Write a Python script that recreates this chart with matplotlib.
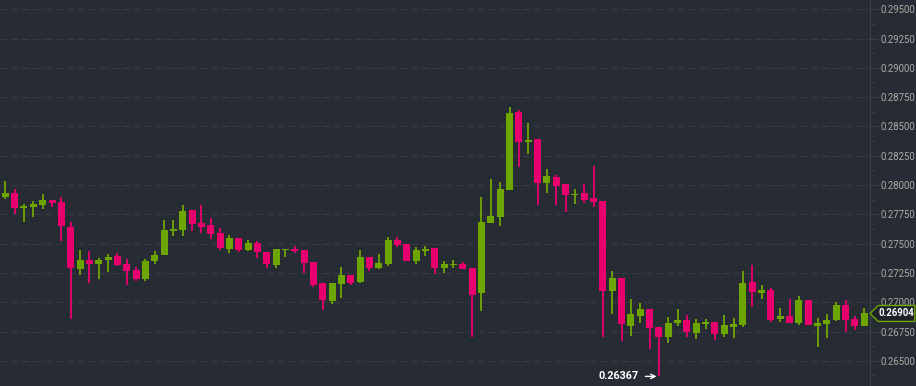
import matplotlib
matplotlib.use("Agg")
import matplotlib.pyplot as plt
import matplotlib.transforms as mtransforms
from matplotlib.patches import Polygon
from matplotlib.ticker import MultipleLocator, FormatStrFormatter
import numpy as np

# candle data (oldest -> newest)
opens = [0.27900, 0.27932, 0.27806, 0.27815, 0.27832, 0.27872, 0.27855, 0.27645, 0.27286, 0.27360,
         0.27329, 0.27360, 0.27394, 0.27326, 0.27275, 0.27198, 0.27352, 0.27403, 0.27608, 0.27616,
         0.27787, 0.27676, 0.27659, 0.27591, 0.27454, 0.27548, 0.27446, 0.27505, 0.27428, 0.27320,
         0.27446, 0.27454, 0.27446, 0.27343, 0.27164, 0.27010, 0.27155, 0.27232, 0.27173, 0.27386,
         0.27292, 0.27326, 0.27531, 0.27497, 0.27352, 0.27437, 0.27463, 0.27292, 0.27318, 0.27326,
         0.27292, 0.27081, 0.27678, 0.27730, 0.27960, 0.28623, 0.28366, 0.28390, 0.28020, 0.28068,
         0.28009, 0.27917, 0.27932, 0.27892, 0.27863, 0.27098, 0.27207, 0.26800, 0.26885, 0.26942,
         0.26789, 0.26703, 0.26823, 0.26848, 0.26740, 0.26814, 0.26831, 0.26731, 0.26786, 0.26806,
         0.27173, 0.27081, 0.27104, 0.26859, 0.26882, 0.26825, 0.27019, 0.26800, 0.26814, 0.26848,
         0.26976, 0.26857, 0.26800]
highs = [0.28034, 0.27963, 0.27840, 0.27861, 0.27923, 0.27872, 0.27895, 0.27684, 0.27446, 0.27434,
         0.27377, 0.27411, 0.27417, 0.27366, 0.27303, 0.27369, 0.27434, 0.27701, 0.27701, 0.27829,
         0.27790, 0.27829, 0.27718, 0.27630, 0.27573, 0.27548, 0.27531, 0.27522, 0.27428, 0.27454,
         0.27454, 0.27480, 0.27446, 0.27343, 0.27164, 0.27164, 0.27301, 0.27232, 0.27446, 0.27386,
         0.27411, 0.27556, 0.27556, 0.27497, 0.27471, 0.27480, 0.27463, 0.27352, 0.27360, 0.27343,
         0.27292, 0.27895, 0.28049, 0.28023, 0.28665, 0.28640, 0.28529, 0.28390, 0.28136, 0.28085,
         0.28009, 0.27963, 0.28006, 0.28160, 0.27863, 0.27264, 0.27207, 0.27025, 0.26991, 0.26942,
         0.26789, 0.26874, 0.26942, 0.26891, 0.26857, 0.26857, 0.26831, 0.26891, 0.26866, 0.27264,
         0.27318, 0.27144, 0.27121, 0.26948, 0.27030, 0.27053, 0.27019, 0.26866, 0.26900, 0.27002,
         0.27019, 0.26882, 0.26951]
lows = [0.27883, 0.27750, 0.27687, 0.27730, 0.27798, 0.27810, 0.27525, 0.26854, 0.27235, 0.27167,
        0.27200, 0.27260, 0.27312, 0.27144, 0.27184, 0.27181, 0.27328, 0.27403, 0.27568, 0.27568,
        0.27610, 0.27593, 0.27542, 0.27448, 0.27423, 0.27431, 0.27437, 0.27380, 0.27295, 0.27295,
        0.27388, 0.27423, 0.27252, 0.27130, 0.26936, 0.26987, 0.27039, 0.27147, 0.27164, 0.27266,
        0.27283, 0.27309, 0.27471, 0.27352, 0.27326, 0.27394, 0.27241, 0.27250, 0.27292, 0.27283,
        0.26700, 0.26925, 0.27678, 0.27653, 0.27960, 0.28151, 0.28262, 0.27827, 0.27929, 0.27827,
        0.27767, 0.27835, 0.27844, 0.27815, 0.26700, 0.26897, 0.26669, 0.26712, 0.26820, 0.26598,
        0.26367, 0.26655, 0.26797, 0.26700, 0.26688, 0.26772, 0.26678, 0.26703, 0.26694, 0.26786,
        0.26962, 0.27031, 0.26834, 0.26834, 0.26825, 0.26808, 0.26806, 0.26620, 0.26698, 0.26840,
        0.26749, 0.26766, 0.26800]
closes = [0.27932, 0.27806, 0.27821, 0.27840, 0.27872, 0.27846, 0.27653, 0.27295, 0.27360, 0.27329,
          0.27360, 0.27386, 0.27318, 0.27266, 0.27198, 0.27352, 0.27403, 0.27616, 0.27625, 0.27778,
          0.27667, 0.27642, 0.27582, 0.27463, 0.27548, 0.27446, 0.27505, 0.27428, 0.27329, 0.27454,
          0.27454, 0.27437, 0.27335, 0.27147, 0.27019, 0.27164, 0.27232, 0.27164, 0.27386, 0.27292,
          0.27335, 0.27531, 0.27488, 0.27352, 0.27446, 0.27454, 0.27292, 0.27326, 0.27326, 0.27283,
          0.27064, 0.27684, 0.27736, 0.27966, 0.28614, 0.28366, 0.28383, 0.28020, 0.28077, 0.27994,
          0.27917, 0.27926, 0.27875, 0.27858, 0.27098, 0.27207, 0.26817, 0.26900, 0.26942, 0.26783,
          0.26703, 0.26823, 0.26848, 0.26749, 0.26823, 0.26831, 0.26731, 0.26806, 0.26814, 0.27164,
          0.27090, 0.27104, 0.26851, 0.26882, 0.26825, 0.27019, 0.26806, 0.26823, 0.26848, 0.26976,
          0.26848, 0.26800, 0.26904]

last_price = 0.26904
low_price = 0.26367

BG = '#272c34'
UP = '#6ea600'
DOWN = '#e8006f'
GRID = '#363c45'
AXIS = '#3a404a'
LABEL = '#a7ada4'

o = np.array(opens)
h = np.array(highs)
l = np.array(lows)
c = np.array(closes)
x = np.arange(len(o))
up = c >= o
colors = np.where(up, UP, DOWN)

fig = plt.figure(figsize=(9.16, 3.86), dpi=100)
fig.patch.set_facecolor(BG)
ax = fig.add_axes([0, 0, 870 / 916, 1])
ax.set_facecolor(BG)

# wicks then bodies
ax.vlines(x, l, h, colors=colors, linewidth=1.3, zorder=2)
body_low = np.minimum(o, c)
body_h = np.maximum(np.abs(c - o), 0.00003)
ax.bar(x, body_h, bottom=body_low, width=0.75, color=colors, linewidth=0, zorder=3)

ax.set_xlim(-0.57, 92.61)
ax.set_ylim(0.26285, 0.29579)

ax.yaxis.tick_right()
ax.yaxis.set_major_locator(MultipleLocator(0.0025))
ax.yaxis.set_minor_locator(MultipleLocator(0.00125))
ax.yaxis.set_major_formatter(FormatStrFormatter('%.5f'))
ax.tick_params(axis='y', which='major', length=6, width=0.8, color=AXIS,
               labelcolor=LABEL, labelsize=6.9, pad=1.5)
ax.tick_params(axis='y', which='minor', length=3, width=0.8, color=AXIS)
for t in ax.get_yticklabels():
    t.set_fontfamily('Roboto')
ax.set_xticks([])
ax.grid(axis='y', which='major', color=GRID, linestyle=(0, (6, 4)), linewidth=0.8, zorder=0)

for side in ['top', 'bottom', 'left']:
    ax.spines[side].set_visible(False)
ax.spines['right'].set_color(AXIS)
ax.spines['right'].set_linewidth(0.8)

# lowest price marker
ax.annotate(f'{low_price:.5f}', xy=(69.75, low_price), xytext=(-13, 0),
            textcoords='offset points', ha='right', va='center',
            color='white', fontsize=7.8, fontweight='bold', family='Roboto',
            arrowprops=dict(arrowstyle='->', color='white', lw=1.0,
                            shrinkA=3, shrinkB=0))

# current price tag on the axis
trans = mtransforms.blended_transform_factory(ax.transAxes, ax.transData)
hh = 0.00068
tag = Polygon([(1.0, last_price), (1.0095, last_price + hh), (1.0515, last_price + hh),
               (1.0515, last_price - hh), (1.0095, last_price - hh)],
              closed=True, transform=trans, clip_on=False,
              facecolor='#1f2329', edgecolor=UP, linewidth=1.0, zorder=5)
ax.add_patch(tag)
ax.text(1.0095, last_price, f'{last_price:.5f}', transform=trans, ha='left', va='center',
        color='white', fontsize=6.9, fontweight='bold', family='Roboto', zorder=6, clip_on=False)

fig.savefig('out.png', dpi=100, facecolor=BG)
